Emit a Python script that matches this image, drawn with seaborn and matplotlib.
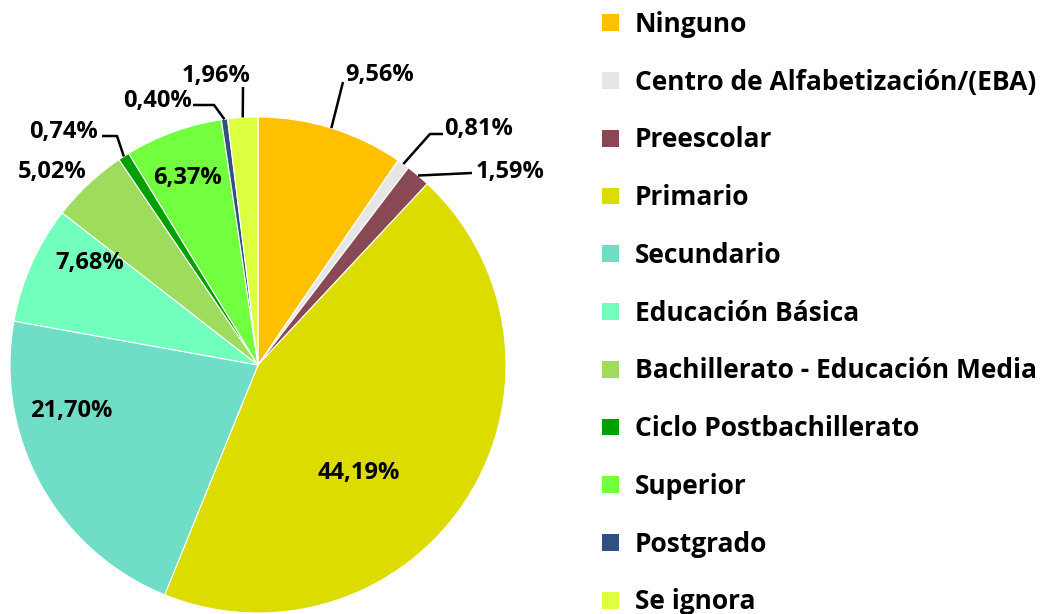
import matplotlib
matplotlib.use("Agg")
import matplotlib.pyplot as plt
import seaborn as sns
import numpy as np
from matplotlib.patches import Patch

categories = ["Ninguno", "Centro de Alfabetización/(EBA)", "Preescolar", "Primario",
              "Secundario", "Educación Básica", "Bachillerato - Educación Media",
              "Ciclo Postbachillerato", "Superior", "Postgrado", "Se ignora"]
values = [9.56, 0.81, 1.59, 44.19, 21.70, 7.68, 5.02, 0.74, 6.37, 0.40, 1.96]
colors = ["#FFC000", "#E6E6E6", "#884955", "#DCDC00", "#70DDC6", "#72FFBE",
          "#9EDC5E", "#00A000", "#72FF3F", "#2F5080", "#DCFF40"]
pct_labels = [f"{v:.2f}%".replace(".", ",") for v in values]

sns.set_theme(style="white")
plt.rcParams['font.family'] = ['Open Sans', 'DejaVu Sans']
plt.rcParams['text.color'] = 'black'

W, H = 1043, 614
fig = plt.figure(figsize=(W / 100, H / 100), dpi=100)
ax = fig.add_axes([0, 0, 1, 1])
cx, cy, R = 258, H - 365, 248
wedges, _ = ax.pie(values, colors=colors, startangle=90, counterclock=False,
                   center=(cx, cy), radius=R,
                   wedgeprops=dict(edgecolor="white", linewidth=0.8))
ax.set_xlim(0, W)
ax.set_ylim(0, H)
ax.set_aspect("equal")
ax.axis("off")

# label layout in pixel coords (x, y from top): text centre, optional elbow, optional leader end
label_layout = [
    dict(text=(380, 72), end=(343, 82)),
    dict(text=(479, 126), elbow=(430, 134), end=(443, 134)),
    dict(text=(510, 169), end=(472, 173)),
    dict(text=(359, 470)),
    dict(text=(71, 408)),
    dict(text=(90, 260)),
    dict(text=(52, 169)),
    dict(text=(64, 129), elbow=(117, 136), end=(102, 136)),
    dict(text=(187, 175)),
    dict(text=(158, 98), elbow=(214, 105), end=(193, 105)),
    dict(text=(216, 73), end=(243, 87)),
]

for w, lab, lay in zip(wedges, pct_labels, label_layout):
    tx, ty = lay["text"]
    ax.text(tx, H - ty, lab, ha="center", va="center_baseline", fontsize=17,
            fontweight="bold", color="black")
    if "end" in lay:
        mid = np.deg2rad((w.theta1 + w.theta2) / 2)
        sx, sy = cx + R * np.cos(mid), cy + R * np.sin(mid)
        pts = [(sx, sy)]
        if "elbow" in lay:
            pts.append((lay["elbow"][0], H - lay["elbow"][1]))
        pts.append((lay["end"][0], H - lay["end"][1]))
        xs, ys = zip(*pts)
        ax.plot(xs, ys, color="black", lw=1.8, solid_capstyle="butt")

handles = [Patch(facecolor=c, edgecolor="none") for c in colors]
leg = ax.legend(handles, categories, loc="upper left",
                bbox_to_anchor=(602 / W, 1 - 11 / H), frameon=False,
                prop=dict(weight="bold", size=19), handlelength=0.64,
                handleheight=0.6, handletextpad=0.6, labelspacing=1.165,
                borderaxespad=0, borderpad=0)
for t in leg.get_texts():
    t.set_color("black")

fig.savefig("out.png", dpi=100)
